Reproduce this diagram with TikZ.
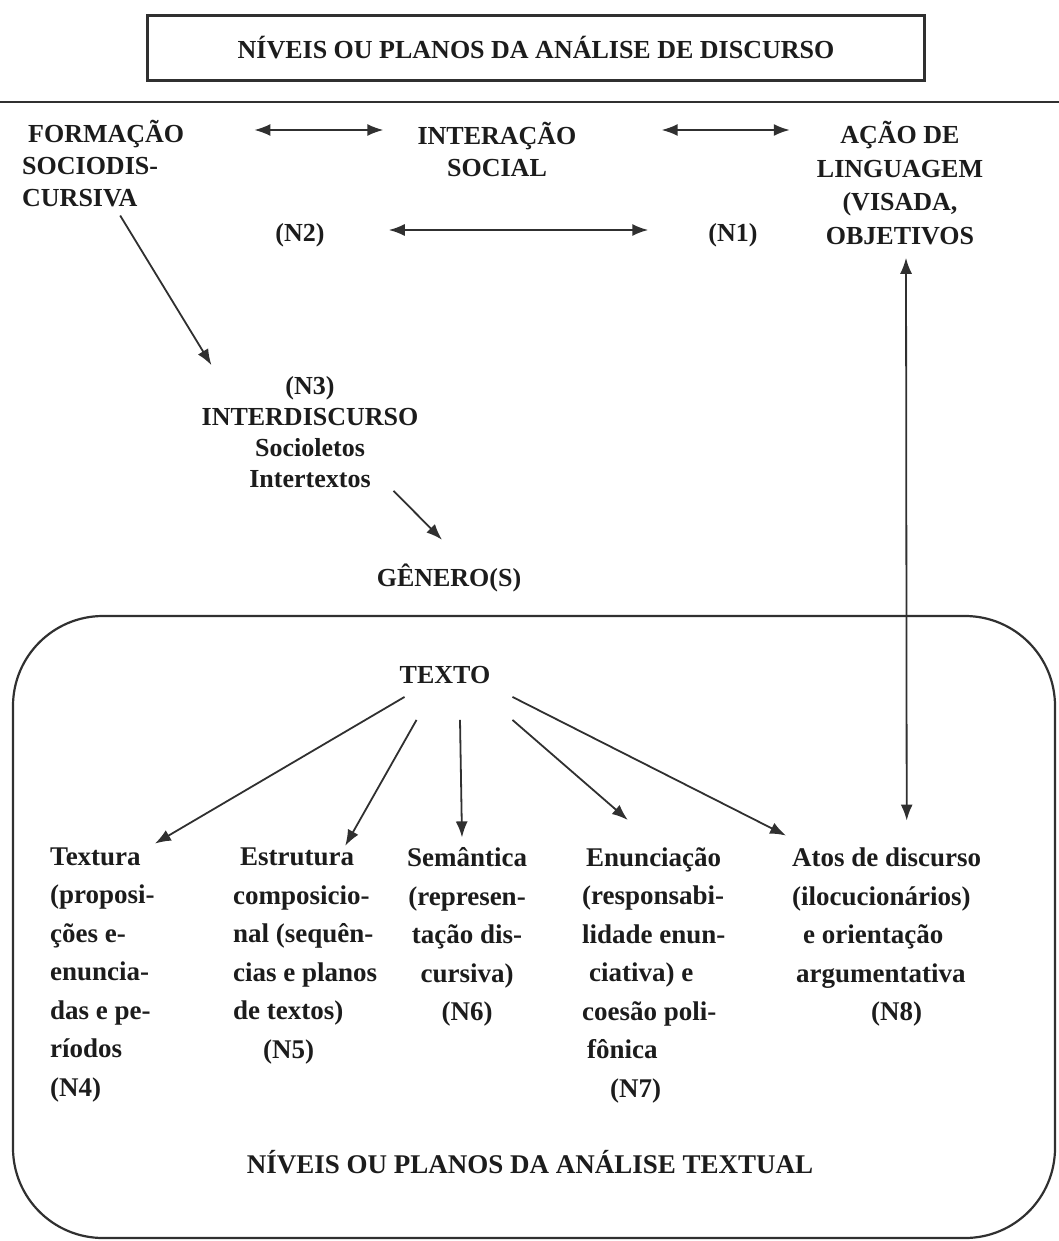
\documentclass[tikz,border=0pt]{standalone}
\usepackage{fontspec}
\setmainfont{Liberation Serif}
\usetikzlibrary{arrows.meta}
\definecolor{inkgray}{HTML}{1C1C1C}
\definecolor{linegray}{HTML}{303030}

\begin{document}
\begin{tikzpicture}[x=1pt, y=-1pt,
    lbl/.style={inner sep=0pt, text=inkgray, align=center,
      font=\bfseries\fontsize{26}{32}\selectfont},
    col/.style={inner sep=0pt, text=inkgray, align=left,
      font=\bfseries\fontsize{27}{38.5}\selectfont},
    arr/.style={-{Latex[length=16pt,width=12pt]}, line width=1.8pt, draw=linegray},
    dbl/.style={{Latex[length=16pt,width=12pt]}-{Latex[length=16pt,width=12pt]},
      line width=1.8pt, draw=linegray},
  ]
  \useasboundingbox (0,0) rectangle (1059,1241);

  % discourse levels
  \node[lbl, draw=linegray, line width=2.2pt, minimum width=777pt,
    minimum height=65pt] (title) at (536,48)
    {NÍVEIS OU PLANOS DA ANÁLISE DE DISCURSO};
  \draw[line width=2.4pt, linegray] (0,102) -- (1059,102);

  \node[lbl, align=left, anchor=west] (form) at (22,164)
    {\hspace*{6pt}FORMAÇÃO\\SOCIODIS-\\CURSIVA};
  \node[lbl] (inter) at (497,149) {INTERAÇÃO\\SOCIAL};
  \node[lbl, font=\bfseries\fontsize{26}{33.5}\selectfont] (acao) at (900,183)
    {AÇÃO DE\\LINGUAGEM\\(VISADA,\\OBJETIVOS};
  \node[lbl] (n2) at (300,235) {(N2)};
  \node[lbl] (n1) at (733,235) {(N1)};
  \node[lbl, font=\bfseries\fontsize{26}{31}\selectfont] (n3) at (310,432)
    {(N3)\\INTERDISCURSO\\Socioletos\\Intertextos};
  \node[lbl] (genero) at (449,578) {GÊNERO(S)};

  \draw[dbl] ([xshift=70pt,yshift=34pt]form.east)
    -- ([xshift=-34pt,yshift=19pt]inter.west);
  \draw[dbl] ([xshift=85pt,yshift=19pt]inter.east)
    -- ([xshift=-27pt,yshift=53pt]acao.west);
  \draw[dbl] ([xshift=64pt,yshift=5pt]n2.east)
    -- ([xshift=-60pt,yshift=5pt]n1.west);
  \draw[arr] ([xshift=17pt,yshift=-8pt]form.south)
    -- ([xshift=10pt,yshift=11pt]n3.north west);
  \draw[arr] ([xshift=-25pt,yshift=-3pt]n3.south east)
    -- ([xshift=-7pt,yshift=24pt]genero.north);

  % textual levels
  \draw[line width=2.2pt, linegray, rounded corners=90pt]
    (13,616) rectangle (1055,1238);
  \node[lbl] (texto) at (445,675) {TEXTO};

  \node[col, anchor=west] (textura) at (50,975)
    {Textura\\(proposi-\\ções e-\\enuncia-\\das e pe-\\ríodos\\(N4)};
  \node[col, anchor=west] (estr) at (233,956)
    {\hspace*{7pt}Estrutura\\composicio-\\nal (sequên-\\cias e planos\\de textos)\\\hspace*{30pt}(N5)};
  \node[col, align=center] (sem) at (467,937)
    {Semântica\\(represen-\\tação dis-\\cursiva)\\(N6)};
  \node[col, anchor=west] (enun) at (582,975)
    {\hspace*{4pt}Enunciação\\(responsabi-\\lidade enun-\\\hspace*{7pt}ciativa) e\\coesão poli-\\\hspace*{5pt}fônica\\\hspace*{28pt}(N7)};
  \node[col, anchor=west] (atos) at (792,937)
    {Atos de discurso\\(ilocucionários)\\\hspace*{11pt}e orientação\\\hspace*{4pt}argumentativa\\\hspace*{79pt}(N8)};

  \draw[arr] ([xshift=5pt,yshift=-13pt]texto.south west)
    -- ([yshift=4pt]textura.north east);
  \draw[arr] ([xshift=17pt,yshift=-36pt]texto.south west)
    -- ([xshift=40pt,yshift=2pt]estr.north);
  \draw[arr] ([xshift=15pt,yshift=-36pt]texto.south)
    -- ([xshift=-5pt,yshift=10pt]sem.north);
  \draw[arr] ([xshift=22pt,yshift=-36pt]texto.south east)
    -- ([xshift=-26pt,yshift=27pt]enun.north);
  \draw[arr] ([xshift=22pt,yshift=-13pt]texto.south east)
    -- ([xshift=-6pt,yshift=12pt]atos.north west);
  \draw[dbl] ([xshift=6pt,yshift=-13pt]acao.south)
    -- ([xshift=20pt,yshift=27pt]atos.north);

  \node[lbl, font=\bfseries\fontsize{27}{32}\selectfont] (textual) at (530,1162)
    {NÍVEIS OU PLANOS DA ANÁLISE TEXTUAL};
\end{tikzpicture}
\end{document}
